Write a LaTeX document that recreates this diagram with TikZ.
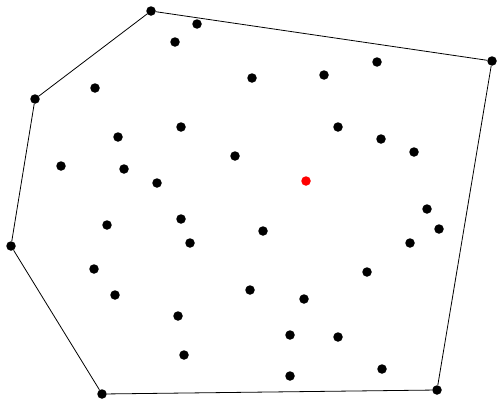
\documentclass[tikz,border=0pt]{standalone}
\usetikzlibrary{positioning}

\begin{document}
\begin{tikzpicture}[
  x=1pt, y=-1pt,
  dot/.style={circle, fill=black, inner sep=0pt, minimum size=9.5pt},
  centre/.style={dot, fill=red},
  hull/.style={draw, line width=0.8pt},
]
\useasboundingbox (0,0) rectangle (497,399);

%% ---- hull vertices ----
\foreach \x/\y/\n in {151/11/h1, 492/61/h2, 437/390/h3,
                      102/394/h4, 11/246/h5, 35/99/h6}
  \node[dot] (\n) at (\x,\y) {};

%% ---- interior points ----
\foreach \x/\y [count=\i] in {197/24, 175/42, 252/78, 324/75, 377/62,
    95/88, 181/127, 338/127, 118/137, 381/139, 414/152, 235/156,
    61/166, 124/169, 157/183, 427/209, 439/229, 181/219, 107/225,
    263/231, 190/243, 410/243, 94/269, 367/272, 115/295, 250/290,
    304/299, 178/316, 290/335, 338/337, 184/355, 382/369, 290/376}
  \node[dot] (p\i) at (\x,\y) {};

%% ---- centre point ----
\node[centre] (mid) at (306,181) {};

%% ---- hull edges ----
\draw[hull] (h1) -- (h2) -- (h3) -- (h4) -- (h5) -- (h6) -- (h1);

\end{tikzpicture}
\end{document}
